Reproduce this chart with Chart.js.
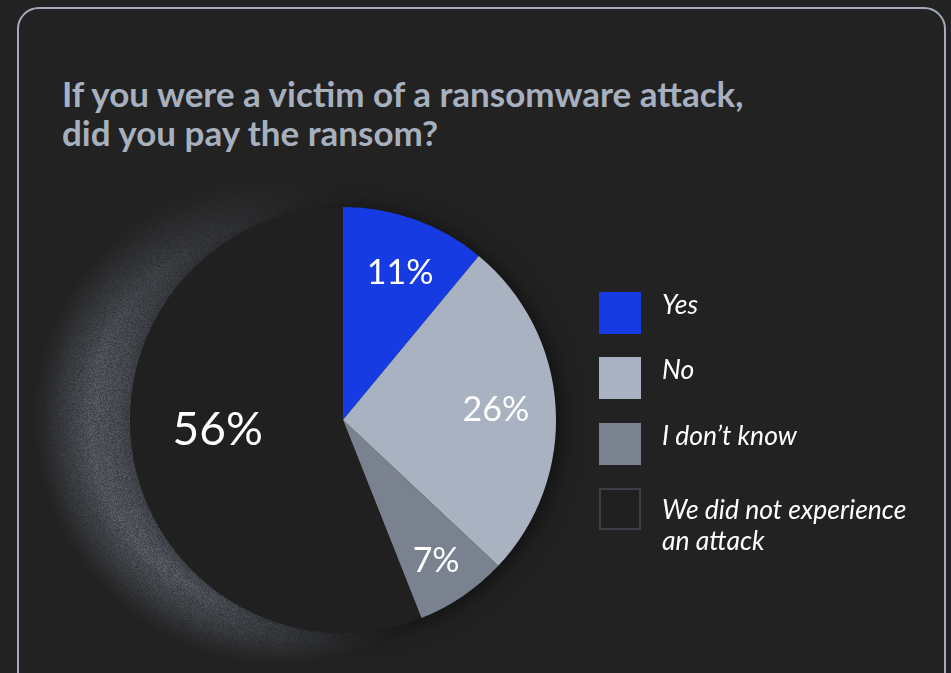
<!DOCTYPE html>
<html>
<head>
<meta charset="utf-8">
<script src="https://cdn.jsdelivr.net/npm/chart.js@4/dist/chart.umd.min.js"></script>
<style>
  html, body { margin: 0; padding: 0; background: #222222; }
  body { width: 951px; height: 673px; position: relative; overflow: hidden; font-family: Lato, "Noto Sans", sans-serif; }
  .card { position: absolute; left: 17px; top: 7px; width: 929px; height: 700px; border: 2.5px solid #a3abb8; border-radius: 22px; box-sizing: border-box; }
  .title { position: absolute; left: 62px; top: 74px; margin: 0; font-weight: 700; font-size: 35px; line-height: 39px; color: #a7b0be; letter-spacing: 0; }
  canvas#pie { position: absolute; left: 0; top: 0; }
  .legend { position: absolute; left: 599px; top: 292px; }
  .item { position: absolute; left: 0; }
  .swatch { position: absolute; left: 0; top: 0; width: 42px; height: 42px; box-sizing: border-box; }
  .text { position: absolute; left: 63px; top: -3px; width: 262px; font-style: italic; font-size: 26.5px; line-height: 31px; color: #ffffff; white-space: normal; }
</style>
</head>
<body>
<div class="card"></div>
<h1 class="title">If you were a victim of a ransomware attack,<br>did you pay the ransom?</h1>
<canvas id="pie" width="951" height="673"></canvas>
<div class="legend" id="legend"></div>
<script>
// Survey answers and their shares (percent)
const categories = ['Yes', 'No', 'I don’t know', 'We did not experience an attack'];
const shares = [11, 26, 7, 56];
const sliceColors = ['#173be3', '#a8b2c0', '#7a8290', '#202020'];
const swatchBorders = ['#173be3', '#a8b2c0', '#7a8290', '#3b3f46'];

// Legend built from the same arrays
const legend = document.getElementById('legend');
categories.forEach((name, i) => {
  const item = document.createElement('div');
  item.className = 'item';
  item.style.top = (i * 65.3) + 'px';
  const sw = document.createElement('div');
  sw.className = 'swatch';
  sw.style.background = sliceColors[i];
  sw.style.border = '2px solid ' + swatchBorders[i];
  const tx = document.createElement('div');
  tx.className = 'text';
  tx.textContent = name;
  item.appendChild(sw);
  item.appendChild(tx);
  legend.appendChild(item);
  if (tx.offsetHeight > 40) tx.style.top = '6px';
});

// Cheap deterministic hash for film grain
function grain(x, y) {
  const s = Math.sin(x * 12.9898 + y * 78.233) * 43758.5453;
  return s - Math.floor(s);
}

// Soft grainy glow sitting behind the left side of the pie
const haloPlugin = {
  id: 'halo',
  beforeDatasetsDraw(chart) {
    const arc = chart.getDatasetMeta(0).data[0];
    if (!arc) return;
    const { x, y, outerRadius } = arc.getProps(['x', 'y', 'outerRadius'], true);
    const ctx = chart.ctx;
    const hx = x - 63, hy = y - 2;
    const outer = outerRadius + 34;
    const size = Math.ceil(outer * 2 + 20);
    const off = document.createElement('canvas');
    off.width = size; off.height = size;
    const o = off.getContext('2d');
    const c = size / 2;
    const inner = 100;
    const g = o.createRadialGradient(c, c, inner, c, c, outer);
    const f = r => (r - inner) / (outer - inner);
    g.addColorStop(0, 'rgba(108,115,128,0.15)');
    g.addColorStop(f(150), 'rgba(108,115,128,0.5)');
    g.addColorStop(f(190), 'rgba(108,115,128,0.62)');
    g.addColorStop(f(222), 'rgba(96,102,114,0.3)');
    g.addColorStop(1, 'rgba(80,84,92,0)');
    o.fillStyle = g;
    o.beginPath(); o.arc(c, c, outer, 0, Math.PI * 2); o.fill();
    // light falls from the lower left, fade toward the top
    o.globalCompositeOperation = 'destination-out';
    const lg = o.createLinearGradient(c - outer * 0.75, c + outer * 0.55, c + outer * 0.3, c - outer * 0.95);
    lg.addColorStop(0, 'rgba(0,0,0,0)');
    lg.addColorStop(0.35, 'rgba(0,0,0,0.1)');
    lg.addColorStop(0.7, 'rgba(0,0,0,0.6)');
    lg.addColorStop(1, 'rgba(0,0,0,0.92)');
    o.fillStyle = lg;
    o.fillRect(0, 0, size, size);
    o.globalCompositeOperation = 'source-over';
    // grain
    const img = o.getImageData(0, 0, size, size);
    const d = img.data;
    for (let py = 0; py < size; py++) {
      for (let px = 0; px < size; px++) {
        const k = (py * size + px) * 4;
        if (d[k + 3] === 0) continue;
        const n = grain(px, py);
        d[k + 3] = Math.min(255, d[k + 3] * (0.65 + 0.7 * n));
      }
    }
    o.putImageData(img, 0, 0);
    ctx.save();
    ctx.drawImage(off, hx - c, hy - c);
    // faint drop shadow to the right of the pie
    ctx.shadowColor = 'rgba(0,0,0,0.55)';
    ctx.shadowBlur = 22;
    ctx.shadowOffsetX = 6;
    ctx.shadowOffsetY = 2;
    ctx.fillStyle = '#202020';
    ctx.beginPath(); ctx.arc(x, y, outerRadius - 1, 0, Math.PI * 2); ctx.fill();
    ctx.restore();
  }
};

// Percent labels placed inside each slice
const sliceLabelPlugin = {
  id: 'sliceLabels',
  afterDatasetsDraw(chart, args, opts) {
    const ctx = chart.ctx;
    const meta = chart.getDatasetMeta(0);
    ctx.save();
    ctx.fillStyle = '#ffffff';
    ctx.textAlign = 'center';
    ctx.textBaseline = 'middle';
    meta.data.forEach((arc, i) => {
      const p = arc.getProps(['x', 'y', 'startAngle', 'endAngle', 'outerRadius'], true);
      const mid = (p.startAngle + p.endAngle) / 2 + opts.angleShift[i] * Math.PI / 180;
      const r = p.outerRadius * opts.radius[i];
      ctx.font = opts.sizes[i] + 'px Lato';
      ctx.fillText(shares[i] + '%', p.x + Math.cos(mid) * r, p.y + Math.sin(mid) * r + 1);
    });
    ctx.restore();
  }
};

new Chart(document.getElementById('pie'), {
  type: 'pie',
  data: {
    labels: categories,
    datasets: [{
      data: shares,
      backgroundColor: sliceColors,
      borderWidth: 0,
      hoverOffset: 0
    }]
  },
  options: {
    responsive: false,
    animation: false,
    layout: { padding: { left: 130, right: 395, top: 207, bottom: 40 } },
    plugins: {
      legend: { display: false },
      tooltip: { enabled: false },
      sliceLabels: {
        radius: [0.745, 0.72, 0.79, 0.59],
        angleShift: [1.3, -0.5, 0.6, 6.7],
        sizes: [34, 34, 34, 46]
      }
    }
  },
  plugins: [haloPlugin, sliceLabelPlugin]
});
</script>
</body>
</html>
